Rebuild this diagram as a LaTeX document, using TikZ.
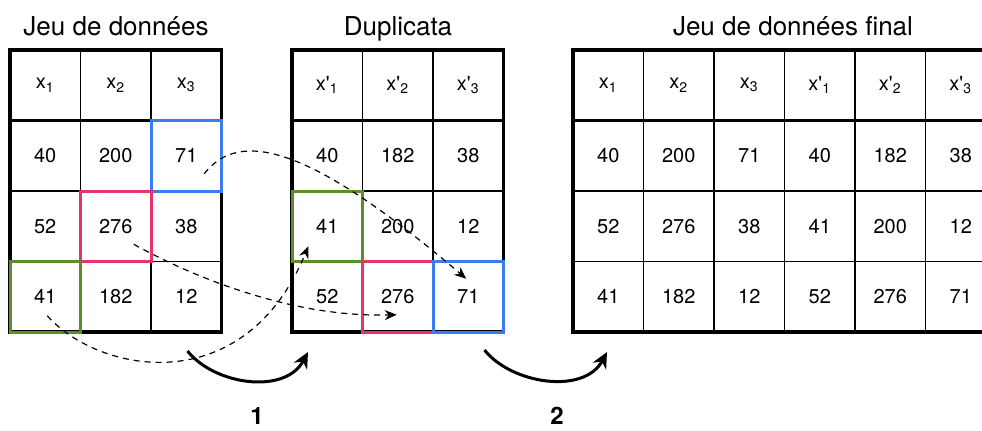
\documentclass[tikz,border=0pt]{standalone}
\usepackage{fontspec}
\setmainfont{TeX Gyre Heros}
\usepackage{xcolor}
\usetikzlibrary{arrows.meta,calc}

\definecolor{boxblue}{HTML}{3B7CF3}
\definecolor{boxpink}{HTML}{E6336F}
\definecolor{boxgreen}{HTML}{5B8E2B}

\begin{document}
\begin{tikzpicture}[
    x=0.5pt, y=-0.5pt,
    cell/.style={rectangle, draw=black, line width=0.6pt, minimum width=35.25pt, minimum height=35.25pt, inner sep=0pt, outer sep=0pt, font=\fontsize{10}{12}\selectfont},
    frame/.style={draw=black, line width=1.6pt},
    title/.style={anchor=base, font=\fontsize{13}{15}\selectfont},
    steplabel/.style={anchor=base, inner sep=0pt, font=\bfseries\fontsize{12}{14}\selectfont},
    bluebox/.style={draw=boxblue, line width=1.5pt},
    pinkbox/.style={draw=boxpink, line width=1.5pt},
    greenbox/.style={draw=boxgreen, line width=1.5pt},
    swaparrow/.style={-{Stealth[length=6pt, width=5pt]}, line width=0.6pt, dash pattern=on 3pt off 2.5pt, black},
    steparrow/.style={-{Stealth[length=8pt, width=7.5pt]}, line width=1.5pt, black}
  ]
    \path[use as bounding box, clip] (0,0) rectangle (982,430);

    % titles
    \node[title] (tdata) at (116,35) {Jeu de données};
    \node[title] (tdup) at (398,35) {Duplicata};
    \node[title] (tfinal) at (793,35) {Jeu de données final};

    % jeu de donnees
    \foreach \v [count=\c] in {x\textsubscript{1},x\textsubscript{2},x\textsubscript{3}}
      \node[cell] (d0\c) at ({10+70.5*\c-35.25}, 85.25) {\v};
    \foreach \row [count=\r] in {{40,200,71},{52,276,38},{41,182,12}}
      \foreach \v [count=\c] in \row
        \node[cell] (d\r\c) at ({10+70.5*\c-35.25}, {85.25+70.5*\r}) {\v};

    % duplicata
    \foreach \v [count=\c] in {x\textquotesingle\textsubscript{1},x\textquotesingle\textsubscript{2},x\textquotesingle\textsubscript{3}}
      \node[cell] (c0\c) at ({292+70.5*\c-35.25}, 85.25) {\v};
    \foreach \row [count=\r] in {{40,182,38},{41,200,12},{52,276,71}}
      \foreach \v [count=\c] in \row
        \node[cell] (c\r\c) at ({292+70.5*\c-35.25}, {85.25+70.5*\r}) {\v};

    % jeu de donnees final
    \foreach \v [count=\c] in {x\textsubscript{1},x\textsubscript{2},x\textsubscript{3},x\textquotesingle\textsubscript{1},x\textquotesingle\textsubscript{2},x\textquotesingle\textsubscript{3}}
      \node[cell] (f0\c) at ({573+70.5*\c-35.25}, 85.25) {\v};
    \foreach \row [count=\r] in {{40,200,71,40,182,38},{52,276,38,41,200,12},{41,182,12,52,276,71}}
      \foreach \v [count=\c] in \row
        \node[cell] (f\r\c) at ({573+70.5*\c-35.25}, {85.25+70.5*\r}) {\v};

    % frames and header lines
    \draw[frame] (d01.north west) rectangle (d33.south east);
    \draw[frame] (d01.south west) -- (d03.south east);
    \draw[frame] (c01.north west) rectangle (c33.south east);
    \draw[frame] (c01.south west) -- (c03.south east);
    \draw[frame] (f01.north west) rectangle (f36.south east);
    \draw[frame] (f01.south west) -- (f06.south east);

    % highlighted cells
    \draw[bluebox] (d13.north west) rectangle (d13.south east);
    \draw[pinkbox] (d22.north west) rectangle (d22.south east);
    \draw[greenbox] (d31.north west) rectangle (d31.south east);
    \draw[greenbox] (c21.north west) rectangle (c21.south east);
    \draw[pinkbox] (c32.north west) rectangle (c32.south east);
    \draw[bluebox] (c33.north west) rectangle (c33.south east);

    % moved values
    \coordinate (from71) at ($(d13.center)+(18,18)$);
    \coordinate (to71) at ($(c33.center)+(-2,-18)$);
    \coordinate (from276) at ($(d22.center)+(18,18)$);
    \coordinate (to276) at ($(c32.center)+(-1,18)$);
    \coordinate (from41) at ($(d31.center)+(2,19)$);
    \coordinate (to41) at ($(c21.center)+(-19,20)$);
    \draw[swaparrow] (from71) .. controls +(35,-45) and +(-157,-134) .. (to71);
    \draw[swaparrow] (from276) .. controls +(56,31) and +(-107,3) .. (to276);
    \draw[swaparrow] (from41) .. controls +(53,59) and +(-63,154) .. (to41);

    % steps
    \coordinate (s1a) at ($(d33.south east)+(-34,19)$);
    \coordinate (s1b) at ($(c31.south west)+(16,20)$);
    \coordinate (s2a) at ($(c33.south east)+(-19,18)$);
    \coordinate (s2b) at ($(f31.south west)+(34,20)$);
    \draw[steparrow] (s1a) .. controls +(27,34) and +(-23,43) .. (s1b);
    \draw[steparrow] (s2a) .. controls +(27,34) and +(-23,43) .. (s2b);
    \node[steplabel] (n1) at (257,424) {1};
    \node[steplabel] (n2) at (557,424) {2};
  \end{tikzpicture}
\end{document}
